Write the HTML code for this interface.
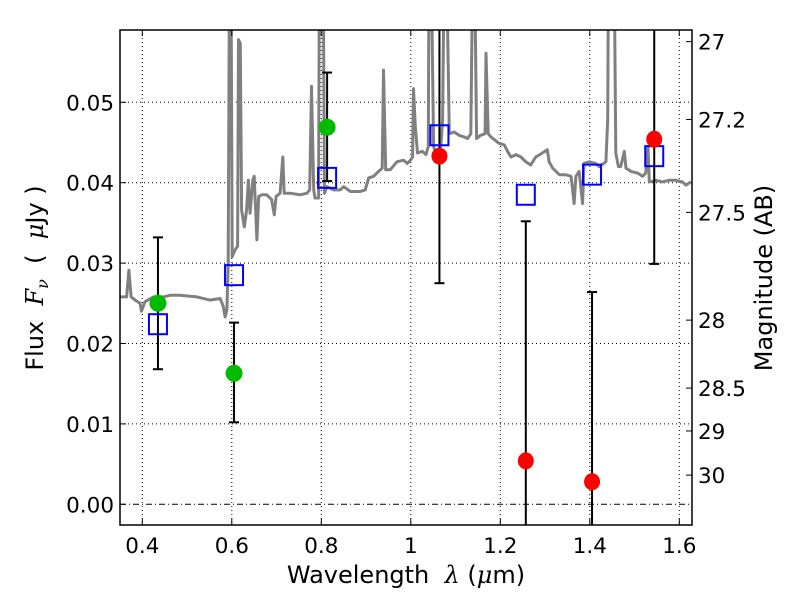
<!DOCTYPE html>
<html><head><meta charset="utf-8"><style>
html,body{margin:0;padding:0;background:#fff;}
svg{display:block;font-family:"DejaVu Sans","Liberation Sans",sans-serif;}
</style></head><body>
<svg id="chart" width="800" height="600" viewBox="0 0 800 600"></svg>
<script>
const specLam=[0.350,0.365,0.370,0.375,0.384,0.395,0.398,0.406,0.425,0.447,0.462,0.484,0.522,0.551,0.574,0.581,0.585,0.589,0.592,0.595,0.598,0.601,0.607,0.613,0.615,0.619,0.622,0.628,0.633,0.637,0.641,0.647,0.650,0.656,0.660,0.667,0.678,0.689,0.695,0.699,0.708,0.714,0.717,0.730,0.753,0.768,0.774,0.778,0.783,0.786,0.794,0.796,0.804,0.807,0.813,0.827,0.842,0.850,0.865,0.887,0.898,0.906,0.917,0.924,0.932,0.936,0.939,0.944,0.954,0.969,0.984,0.992,0.999,1.004,1.006,1.010,1.015,1.026,1.034,1.039,1.041,1.045,1.051,1.056,1.062,1.067,1.071,1.075,1.079,1.086,1.097,1.108,1.119,1.127,1.134,1.139,1.142,1.147,1.156,1.166,1.168,1.173,1.179,1.197,1.209,1.216,1.224,1.235,1.246,1.257,1.268,1.279,1.294,1.305,1.309,1.317,1.332,1.346,1.358,1.361,1.365,1.369,1.376,1.384,1.387,1.399,1.413,1.421,1.436,1.440,1.442,1.454,1.458,1.464,1.469,1.477,1.481,1.492,1.507,1.518,1.525,1.530,1.533,1.548,1.562,1.577,1.592,1.607,1.615,1.626];
const specFlux=[0.0258,0.0258,0.0291,0.0258,0.0254,0.0250,0.0240,0.0252,0.0258,0.0258,0.0260,0.0260,0.0258,0.0254,0.0256,0.0246,0.0233,0.0242,0.0300,0.0700,0.0700,0.0308,0.0316,0.0321,0.0578,0.0573,0.0366,0.0345,0.0366,0.0403,0.0362,0.0403,0.0408,0.0329,0.0383,0.0385,0.0385,0.0379,0.0360,0.0383,0.0387,0.0432,0.0387,0.0387,0.0385,0.0387,0.0391,0.0520,0.0391,0.0381,0.0381,0.0700,0.0700,0.0387,0.0395,0.0391,0.0391,0.0395,0.0389,0.0389,0.0391,0.0406,0.0408,0.0412,0.0416,0.0418,0.0540,0.0416,0.0416,0.0426,0.0428,0.0424,0.0428,0.0432,0.0517,0.0470,0.0437,0.0439,0.0435,0.0445,0.0700,0.0700,0.0445,0.0437,0.0441,0.0445,0.0478,0.0700,0.0700,0.0461,0.0463,0.0459,0.0457,0.0455,0.0461,0.0700,0.0700,0.0455,0.0459,0.0461,0.0561,0.0461,0.0457,0.0449,0.0447,0.0439,0.0432,0.0435,0.0432,0.0426,0.0422,0.0432,0.0437,0.0441,0.0426,0.0418,0.0410,0.0410,0.0408,0.0395,0.0374,0.0408,0.0414,0.0374,0.0424,0.0426,0.0424,0.0420,0.0426,0.0478,0.0700,0.0700,0.0437,0.0420,0.0420,0.0439,0.0418,0.0414,0.0412,0.0408,0.0412,0.0445,0.0401,0.0403,0.0401,0.0403,0.0403,0.0401,0.0397,0.0401];
const greenLam=[0.435,0.605,0.813];
const greenFlux=[0.0250,0.0163,0.0469];
const greenLo=[0.0168,0.0102,0.0402];
const greenHi=[0.0332,0.0226,0.0537];
const redLam=[1.064,1.257,1.405,1.544];
const redFlux=[0.0433,0.0054,0.0028,0.0454];
const redLo=[0.0275,-0.01,-0.01,0.0299];
const redHi=[0.08,0.0352,0.0264,0.08];
const blueLam=[0.435,0.605,0.813,1.064,1.257,1.405,1.544];
const blueFlux=[0.0224,0.0285,0.0406,0.0459,0.0385,0.0410,0.0433];
const xTicks=[0.4,0.6,0.8,1.0,1.2,1.4,1.6];
const xTickLabels=["0.4","0.6","0.8","1","1.2","1.4","1.6"];
const yTicks=[0,0.01,0.02,0.03,0.04,0.05];
const yTickLabels=["0.00","0.01","0.02","0.03","0.04","0.05"];
const magTicks=[27,27.2,27.5,28,28.5,29,30];
const magTickLabels=["27","27.2","27.5","28","28.5","29","30"];

const L=120,R=692,T=30,B=525;
const y0=504.3,ppu=8040;
function X(v){return 142.3+(v-0.4)*447.5;}
function Y(v){return y0-v*ppu;}
function magFlux(m){return Math.pow(10,(23.9-m)/2.5);}
const NS="http://www.w3.org/2000/svg";
const svg=document.getElementById('chart');
function mk(tag,attrs,parent){const e=document.createElementNS(NS,tag);for(const k in attrs)e.setAttribute(k,attrs[k]);(parent||svg).appendChild(e);return e;}

const defs=mk('defs',{});
const cp=mk('clipPath',{id:'clip'},defs);
mk('rect',{x:L,y:T,width:R-L,height:B-T},cp);

const grid=mk('g',{});


xTicks.forEach(t=>{mk('line',{x1:X(t),x2:X(t),y1:T,y2:B,stroke:'#000','stroke-width':1,'stroke-dasharray':'1,3'},grid);});
yTicks.forEach(t=>{mk('line',{x1:L,x2:R,y1:Y(t),y2:Y(t),stroke:'#000','stroke-width':1,'stroke-dasharray':t===0?'6,3,1,3':'1,3'},grid);});

const plot=mk('g',{'clip-path':'url(#clip)'});
let d='';
specLam.forEach((l,i)=>{d+=(i?'L':'M')+X(l).toFixed(1)+','+Y(specFlux[i]).toFixed(1);});
const sp=mk('path',{d:d,fill:'none',stroke:'#808080','stroke-width':3,'stroke-linejoin':'round'},plot);



function errbar(x,lo,hi,name){
  const g=mk('g',{},plot);
  
  
  mk('line',{x1:X(x),x2:X(x),y1:Y(lo),y2:Y(hi),stroke:'#000','stroke-width':2},g);
  mk('line',{x1:X(x)-5,x2:X(x)+5,y1:Y(lo),y2:Y(lo),stroke:'#000','stroke-width':2},g);
  mk('line',{x1:X(x)-5,x2:X(x)+5,y1:Y(hi),y2:Y(hi),stroke:'#000','stroke-width':2},g);
}
greenLam.forEach((l,i)=>errbar(l,greenLo[i],greenHi[i],'green-errorbar'));
redLam.forEach((l,i)=>errbar(l,redLo[i],redHi[i],'red-errorbar'));
blueLam.forEach((l,i)=>{
  const r=mk('rect',{x:X(l)-9,y:Y(blueFlux[i])-10,width:18,height:20,fill:'none',stroke:'#0000ff','stroke-width':2},plot);
  
  
});
greenLam.forEach((l,i)=>{
  const c=mk('circle',{cx:X(l),cy:Y(greenFlux[i]),r:8.5,fill:'#00bb00'},plot);
  
  
});
redLam.forEach((l,i)=>{
  const c=mk('ellipse',{cx:X(l),cy:Y(redFlux[i]),rx:8,ry:8.5,fill:'#ff0000'},plot);
  
  
});

const frame=mk('rect',{x:L,y:T,width:R-L,height:B-T,fill:'none',stroke:'#000','stroke-width':1.5});



const ax=mk('g',{'fill':'#000'});
ax.setAttribute('style','font-size:21.5px');
xTicks.forEach((t,i)=>{
  mk('line',{x1:X(t),x2:X(t),y1:B,y2:B-6,stroke:'#000','stroke-width':1},ax);
  mk('line',{x1:X(t),x2:X(t),y1:T,y2:T+6,stroke:'#000','stroke-width':1},ax);
  const tx=mk('text',{x:X(t),y:B+28,'text-anchor':'middle'},ax);
  tx.textContent=xTickLabels[i];
  
  
});
yTicks.forEach((t,i)=>{
  mk('line',{x1:L,x2:L+6,y1:Y(t),y2:Y(t),stroke:'#000','stroke-width':1},ax);
  const tx=mk('text',{x:L-6,y:Y(t)+8,'text-anchor':'end'},ax);
  tx.textContent=yTickLabels[i];
  
  
});
magTicks.forEach((m,i)=>{
  const y=Y(magFlux(m));
  mk('line',{x1:R-6,x2:R,y1:y,y2:y,stroke:'#000','stroke-width':1},ax);
  const tx=mk('text',{x:R+6,y:y+8,'text-anchor':'start'},ax);
  tx.textContent=magTickLabels[i];
  
  
});
</script>
<svg width="800" height="600" style="position:absolute;left:0;top:0">
<text x="406" y="583" text-anchor="middle" style="font-size:24px;white-space:pre" font-family="DejaVu Sans, Liberation Sans, sans-serif">Wavelength  <tspan font-family="DejaVu Serif, serif" font-style="italic">λ</tspan> (<tspan font-family="DejaVu Serif, serif" font-style="italic">μ</tspan>m)</text>
<text transform="translate(43,278) rotate(-90)" text-anchor="middle" style="font-size:24px;white-space:pre" font-family="DejaVu Sans, Liberation Sans, sans-serif">Flux  <tspan font-family="DejaVu Serif, serif" font-style="italic">F</tspan><tspan font-family="DejaVu Serif, serif" font-style="italic" style="font-size:16px" dy="5">ν</tspan><tspan dy="-5">  (  </tspan><tspan font-family="DejaVu Serif, serif" font-style="italic">μ</tspan>Jy )</text>
<text transform="translate(772,278) rotate(-90)" text-anchor="middle" style="font-size:24px" font-family="DejaVu Sans, Liberation Sans, sans-serif">Magnitude (AB)</text>
</svg>
</body></html>
